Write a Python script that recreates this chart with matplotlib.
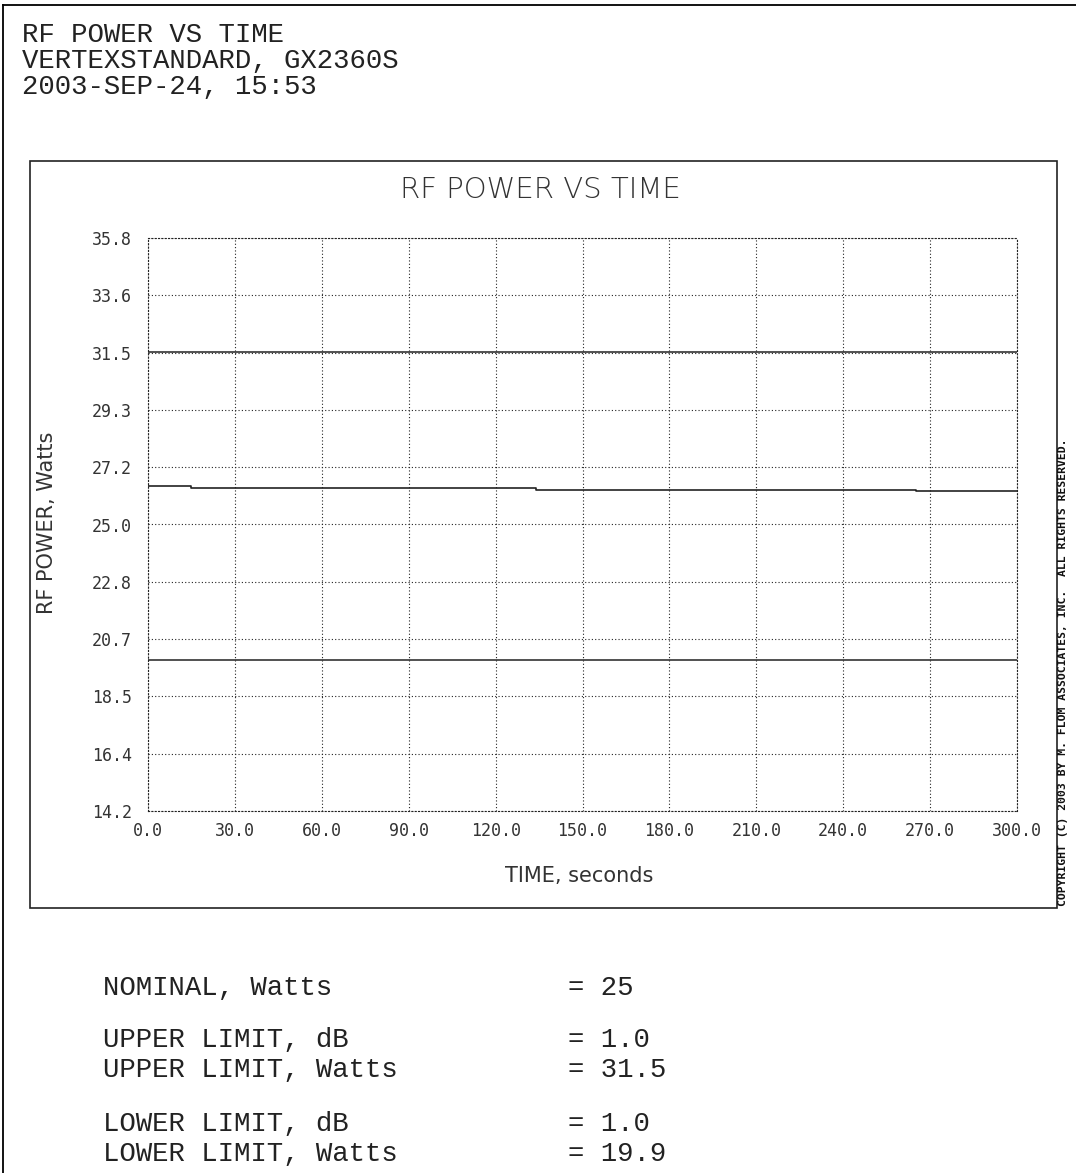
import matplotlib
matplotlib.use("Agg")
import matplotlib.pyplot as plt
from matplotlib.lines import Line2D
from matplotlib.patches import Rectangle

# Measured RF power (step changes over the run)
time_s = [0, 15, 134, 265, 300]
power_w = [26.47, 26.39, 26.31, 26.28, 26.28]

nominal_w = 25
upper_db = 1.0
upper_w = 31.5
lower_db = 1.0
lower_w = 19.9

x_ticks = [0, 30, 60, 90, 120, 150, 180, 210, 240, 270, 300]
y_ticks = [14.2, 16.36, 18.52, 20.68, 22.84, 25.0, 27.16, 29.32, 31.48, 33.64, 35.8]

header_lines = ["RF POWER VS TIME", "VERTEXSTANDARD, GX2360S", "2003-SEP-24, 15:53"]
summary_rows = [
    ("NOMINAL, Watts", "= 25"),
    ("UPPER LIMIT, dB", "= 1.0"),
    ("UPPER LIMIT, Watts", "= 31.5"),
    ("LOWER LIMIT, dB", "= 1.0"),
    ("LOWER LIMIT, Watts", "= 19.9"),
]
summary_y = [988, 1040, 1070, 1124, 1154]

W, H = 1076, 1173
fig = plt.figure(figsize=(W / 100, H / 100), dpi=100)
fig.patch.set_facecolor("white")


def fx(px):
    return px / W


def fy(py):
    return 1 - py / H


# page border (left and top edges)
fig.add_artist(Line2D([fx(3), fx(3)], [fy(5), 0], transform=fig.transFigure, color="black", lw=1.3))
fig.add_artist(Line2D([fx(3), 1], [fy(5), fy(5)], transform=fig.transFigure, color="black", lw=1.3))

mono = "Liberation Mono"
for i, line in enumerate(header_lines):
    fig.text(fx(22), fy(35 + 26 * i), line, family=mono, fontsize=19.7,
             va="center", ha="left", color="#222")

# frame around the plot panel
fig.add_artist(Rectangle((fx(30), fy(908)), fx(1057) - fx(30), fy(161) - fy(908),
                         transform=fig.transFigure, fill=False, edgecolor="#222", lw=1.2))

plot_font = "DejaVu Sans"
fig.text(fx(540), fy(190), "RF POWER VS TIME", family=plot_font, fontsize=21,
         fontweight="light", ha="center", va="center", color="#333")

ax = fig.add_axes([fx(148), fy(811), fx(1017) - fx(148), fy(238) - fy(811)])
ax.set_xlim(0, 300)
ax.set_ylim(14.2, 35.8)

ax.axhline(upper_w, color="#333", lw=1.2)
ax.axhline(lower_w, color="#333", lw=1.2)
ax.plot(time_s, power_w, drawstyle="steps-post", color="#222", lw=1.2)

ax.set_xticks(x_ticks)
ax.set_xticklabels([f"{v:.1f}" for v in x_ticks])
ax.set_yticks(y_ticks)
ax.set_yticklabels([f"{v:.1f}" for v in y_ticks])
ax.tick_params(length=0, labelsize=12, colors="#333", pad=8)
for lab in ax.get_xticklabels() + ax.get_yticklabels():
    lab.set_family("DejaVu Sans Mono")
ax.tick_params(axis="y", pad=11.5)
ax.grid(True, linestyle=(0, (1, 2)), color="#222", lw=0.8)
for sp in ax.spines.values():
    sp.set_linestyle((0, (1, 2)))
    sp.set_linewidth(0.8)
    sp.set_color("#222")

fig.text(fx(579), fy(876), "TIME, seconds", family=plot_font, fontsize=15,
         ha="center", va="center", color="#333")
fig.text(fx(47), fy(523), "RF POWER, Watts", family=plot_font, fontsize=15,
         rotation=90, ha="center", va="center", color="#333")

fig.text(fx(1063), fy(672),
         "COPYRIGHT (C) 2003 BY M. FLOM ASSOCIATES, INC.  ALL RIGHTS RESERVED.",
         family="DejaVu Sans Mono", fontsize=8.2, fontweight="bold", rotation=90,
         ha="center", va="center", color="#111")

for (label, value), yy in zip(summary_rows, summary_y):
    fig.text(fx(103), fy(yy), label, family=mono, fontsize=19.7, ha="left",
             va="center", color="#222")
    fig.text(fx(568), fy(yy), value, family=mono, fontsize=19.7, ha="left",
             va="center", color="#222")

fig.savefig("out.png", dpi=100, facecolor="white")
